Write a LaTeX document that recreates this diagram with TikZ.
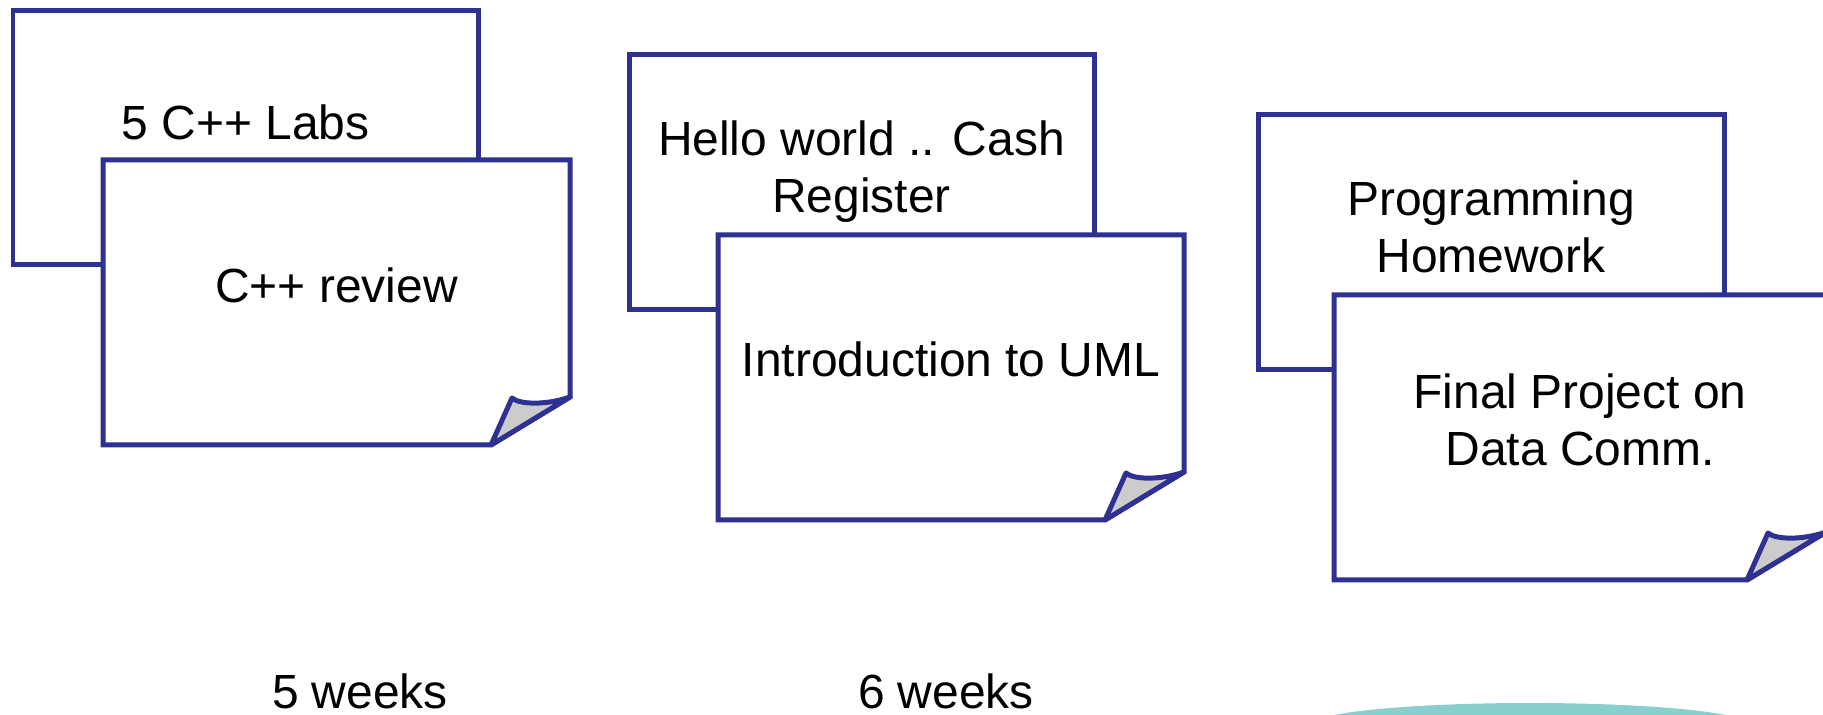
\documentclass[tikz,border=0pt]{standalone}
\usepackage{fontspec}
\setmainfont{Liberation Sans}
\usepackage{tikz}
\definecolor{cardblue}{RGB}{46, 49, 146}
\definecolor{foldgrey}{RGB}{204, 204, 204}
\definecolor{accentteal}{RGB}{136, 207, 206}

\begin{document}
\begin{tikzpicture}[
    x=0.02cm, y=-0.02cm,
    card/.style={draw=cardblue, fill=white, line width=0.1cm},
    fold/.style={draw=cardblue, fill=foldgrey, line width=0.1cm, line join=round},
    txt/.style={anchor=base, align=center, inner sep=0pt, font=\fontsize{27.3pt}{32.7pt}\selectfont}
]
    \clip (0,0) rectangle (1823,715);

    % back cards
    \draw[card] (13,11) rectangle (478,265);
    \draw[card] (629,55) rectangle (1094,310);
    \draw[card] (1258,115) rectangle (1724,370);

    % front cards with curled corner
    \foreach \l/\t/\r/\b in {103/160/570/445, 718/235/1184/520, 1334/295/1826/580} {
        \draw[card] (\l,\t) -- (\r,\t) -- (\r,{\b-48}) -- ({\r-79},\b) -- (\l,\b) -- cycle;
        \draw[fold] ({\r-79},\b) -- ({\r-58},{\b-47})
            .. controls ({\r-50},{\b-40}) and ({\r-22},{\b-40}) .. (\r,{\b-48}) -- cycle;
    }

    % base anchor sits on the last line
    \node[txt] (labs) at (245.5,140) {5 C++ Labs};
    \node[txt] (review) at (336.5,303) {C++ review};
    \node[txt] (hello) at (861.5,213) {Hello world .. Cash\\Register};
    \node[txt] (uml) at (951,377) {Introduction to UML};
    \node[txt] (homework) at (1491,273) {Programming\\Homework};
    \node[txt] (project) at (1580,466) {Final Project on\\Data Comm.};

    \node[txt] (five) at (360,709) {5 weeks};
    \node[txt] (six) at (946,709) {6 weeks};

    \fill[accentteal] (1530,725) ellipse [x radius=4.4cm, y radius=0.44cm];
\end{tikzpicture}
\end{document}
